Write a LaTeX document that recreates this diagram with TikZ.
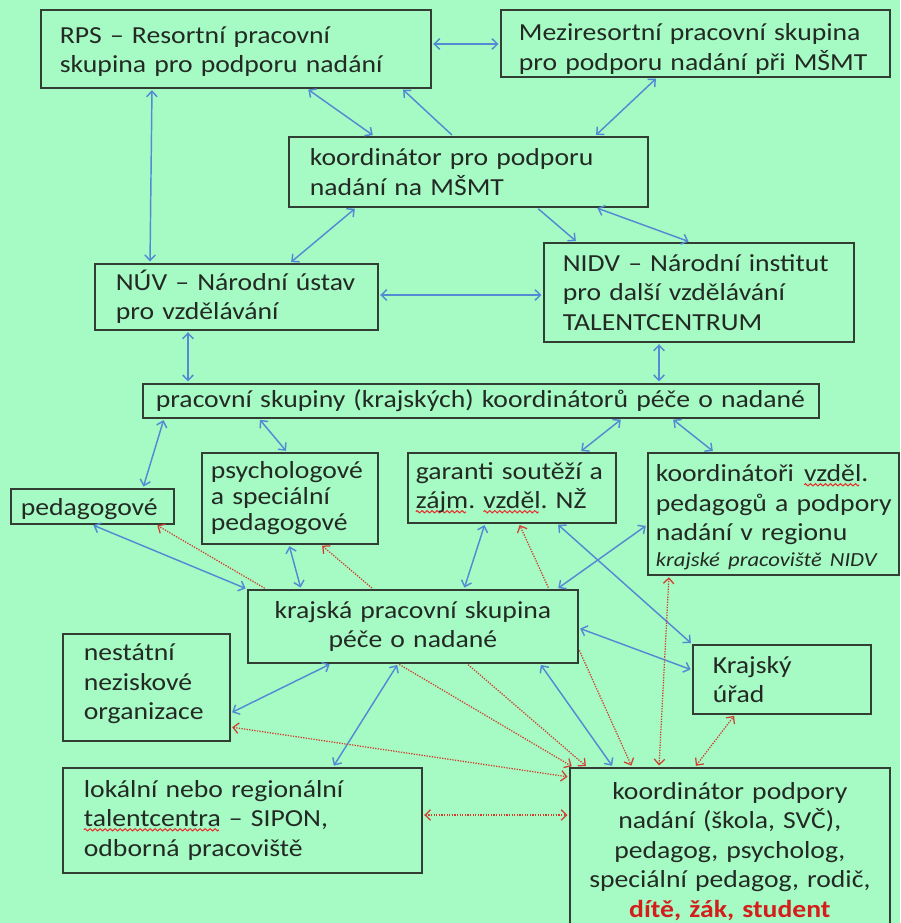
\documentclass[tikz,border=0pt]{standalone}
\usepackage{fontspec}
\setmainfont{Carlito}[FakeStretch=1.13]
\usetikzlibrary{arrows.meta}
\definecolor{bg}{RGB}{166,250,196}
\definecolor{boxc}{RGB}{50,62,52}
\definecolor{txt}{RGB}{35,42,36}
\definecolor{bluec}{RGB}{84,138,212}
\definecolor{redc}{RGB}{208,62,48}
\definecolor{redt}{RGB}{212,30,28}
\definecolor{sq}{RGB}{235,40,40}
\newsavebox\wavebox
\newsavebox\sqtmp
\newcommand\sqw[1]{\leavevmode\sbox\sqtmp{#1}\rlap{\raisebox{-4.5pt}{\leaders\copy\wavebox\hskip\wd\sqtmp}}\usebox\sqtmp}
\tikzset{
  box/.style={draw=boxc, line width=1.7pt, fill=bg, text=txt, anchor=north west,
    inner xsep=0pt, inner ysep=0pt, align=left, font=\fontsize{24.5}{29.5}\selectfont,
    execute at begin node={\hyphenpenalty=10000\exhyphenpenalty=10000}},
  cbox/.style={box, align=center},
  conn/.style={line width=1.45pt, shorten <=1.5pt, shorten >=1.5pt},
  bb/.style={conn, draw=bluec, <->},
  bs/.style={conn, draw=bluec, ->},
  rb/.style={conn, draw=redc, line width=1.25pt, dash pattern=on 1.3pt off 1.3pt, <->},
  rs/.style={conn, draw=redc, line width=1.25pt, dash pattern=on 1.3pt off 1.3pt, ->},
}
\begin{document}
\sbox\wavebox{\pgfpicture
  \pgfsetlinewidth{1.0pt}\pgfsetstrokecolor{sq}%
  \pgfpathmoveto{\pgfpoint{0pt}{0pt}}%
  \pgfpathcurveto{\pgfpoint{0.6pt}{1.5pt}}{\pgfpoint{1.9pt}{1.5pt}}{\pgfpoint{2.5pt}{0pt}}%
  \pgfpathcurveto{\pgfpoint{3.1pt}{-1.5pt}}{\pgfpoint{4.4pt}{-1.5pt}}{\pgfpoint{5pt}{0pt}}%
  \pgfusepath{stroke}%
  \pgfresetboundingbox
  \pgfpathrectangle{\pgfpoint{0pt}{-1.6pt}}{\pgfpoint{5pt}{3.2pt}}\pgfusepath{use as bounding box}%
\endpgfpicture}%
\begin{tikzpicture}[x=1pt, y=-1pt, >={Straight Barb[length=5.5pt,width=10.5pt]}]
\fill[bg] (0,0) rectangle (900,923);
\useasboundingbox (0,0) rectangle (900,923);

% boxes
\node[box, minimum width=390pt, minimum height=78pt, text width=352pt] (rps) at (40,9)
  {\rule{0pt}{22pt}RPS~–~Resortní~pracovní\\skupina~pro~podporu~nadání};
\node[box, minimum width=389pt, minimum height=67pt, text width=353pt] (mez) at (500,9)
  {\rule{0pt}{28pt}Meziresortní~pracovní~skupina\\pro~podporu~nadání~při~MŠMT};
\node[box, minimum width=359pt, minimum height=70pt, text width=317pt] (kms) at (288,136)
  {koordinátor~pro~podporu\\nadání~na~MŠMT};
\node[box, minimum width=283pt, minimum height=66pt, text width=241pt] (nuv) at (94,263)
  {NÚV~–~Národní~ústav\\pro~vzdělávání};
\node[box, minimum width=310pt, minimum height=99pt, text width=272pt] (nidv) at (543,242)
  {NIDV~–~Národní~institut\\pro~další~vzdělávání\\TALENTCENTRUM};
\node[box, minimum width=676pt, minimum height=34pt, text width=650pt] (pks) at (142,383)
  {pracovní~skupiny~(krajských)~koordinátorů~péče~o~nadané};
\node[box, minimum width=163pt, minimum height=35pt, text width=143pt] (ped) at (10,488)
  {\rule{0pt}{22pt}pedagogové};
\node[box, minimum width=176pt, minimum height=91pt, text width=158pt,
  font=\fontsize{24.5}{26}\selectfont] (psy) at (201,452)
  {psychologové\\a~speciální\\pedagogové};
\node[box, minimum width=208pt, minimum height=70pt, text width=192pt] (gar) at (407,452)
  {garanti~soutěží~a\\\sqw{zájm}.~\sqw{vzděl}.~NŽ};
\node[box, minimum width=251pt, minimum height=122pt, text width=235pt] (kvz) at (647,452)
  {\rule{0pt}{24pt}koordinátoři~\kern2pt\sqw{vzděl}.\\pedagogů~a~podpory\\nadání~v~regionu\\[-4pt]{\fontsize{20}{24}\selectfont\itshape krajské~pracoviště~NIDV}};
\node[cbox, minimum width=330pt, minimum height=73pt, text width=300pt] (kps) at (247,589)
  {krajská~pracovní~skupina\\péče~o~nadané};
\node[box, minimum width=167pt, minimum height=107pt, text width=125pt] (nst) at (62,633)
  {nestátní\\neziskové\\organizace\rule[-11pt]{0pt}{0pt}};
\node[box, minimum width=178pt, minimum height=69pt, text width=138pt] (kru) at (692,644)
  {Krajský\\úřad};
\node[box, minimum width=359pt, minimum height=105pt, text width=317pt] (lok) at (62,767)
  {lokální~nebo~regionální\\\sqw{talentcentra}~–~SIPON,\\odborná~pracoviště};
\node[cbox, minimum width=320pt, minimum height=158pt, text width=300pt] (kpo) at (569,767)
  {\rule{0pt}{26pt}koordinátor~podpory\\nadání~(škola,~SVČ),\\pedagog,~psycholog,\\speciální~pedagog,~rodič,\\\textcolor{redt}{\textbf{dítě,~žák,~student}}};

% blue connectors
\draw[bb] (rps.east |- 0,44) -- (mez.west |- 0,44);
\draw[bb] (rps.south -| 307,0) -- (kms.north -| 374,0);
\draw[bb] (rps.south -| 152,0) -- (nuv.north -| 150,0);
\draw[bs] (kms.north -| 453,0) -- (rps.south -| 402,0);
\draw[bb] (mez.south -| 657,0) -- (kms.north -| 595,0);
\draw[bs] (kms.south -| 537,0) -- (nidv.north -| 577,0);
\draw[bb] (kms.south -| 596,0) -- (nidv.north -| 690,0);
\draw[bb] (kms.south -| 356,0) -- (nuv.north -| 290,0);
\draw[bb] (nuv.east |- 0,295) -- (nidv.west |- 0,295);
\draw[bb] (nuv.south -| 188,0) -- (pks.north -| 188,0);
\draw[bb] (nidv.south -| 659,0) -- (pks.north -| 659,0);
\draw[bb] (pks.south -| 164,0) -- (ped.north -| 143,0);
\draw[bb] (pks.south -| 259,0) -- (psy.north -| 287,0);
\draw[bb] (pks.south -| 622,0) -- (gar.north -| 580,0);
\draw[bb] (pks.south -| 672,0) -- (kvz.north -| 714,0);
\draw[bb] (ped.south -| 92,0) -- (kps.north west);
\draw[bb] (psy.south -| 289,0) -- (kps.north -| 301,0);
\draw[bb] (gar.south -| 485,0) -- (kps.north -| 464,0);
\draw[bb] (kvz.west |- 0,525) -- (kps.north -| 557,0);
\draw[bb] (gar.south -| 557,0) -- (kru.north west);
\draw[bb] (kps.east |- 0,628) -- (kru.west |- 0,670);
\draw[bb] (kps.south -| 331,0) -- (nst.east |- 0,713);
\draw[bb] (kps.south -| 398,0) -- (lok.north -| 333,0);
\draw[bb] (kps.south -| 540,0) -- (kpo.north -| 613,0);

% red dotted connectors
\draw[rs] (kps.north -| 266,0) -- (ped.south -| 156,0);
\draw[rs] (kps.north -| 373,0) -- (psy.south -| 321,0);
\draw[rs] (kps.north -| 549,0) -- (gar.south -| 519,0);
\draw[rb] (kpo.north -| 659,0) -- (kvz.south -| 669,0);
\draw[rb] (kpo.north -| 695,0) -- (kru.south -| 735,0);
\draw[rs] (kps.east |- 0,649) -- (kpo.north -| 632,0);
\draw[rs] (kps.south -| 467,0) -- (kpo.north -| 587,0);
\draw[rs] (kps.south -| 398,0) -- (kpo.north -| 573,0);
\draw[rb] (nst.east |- 0,727) -- (kpo.west |- 0,777);
\draw[rb] (lok.east |- 0,815) -- (kpo.west |- 0,815);
\end{tikzpicture}
\end{document}
